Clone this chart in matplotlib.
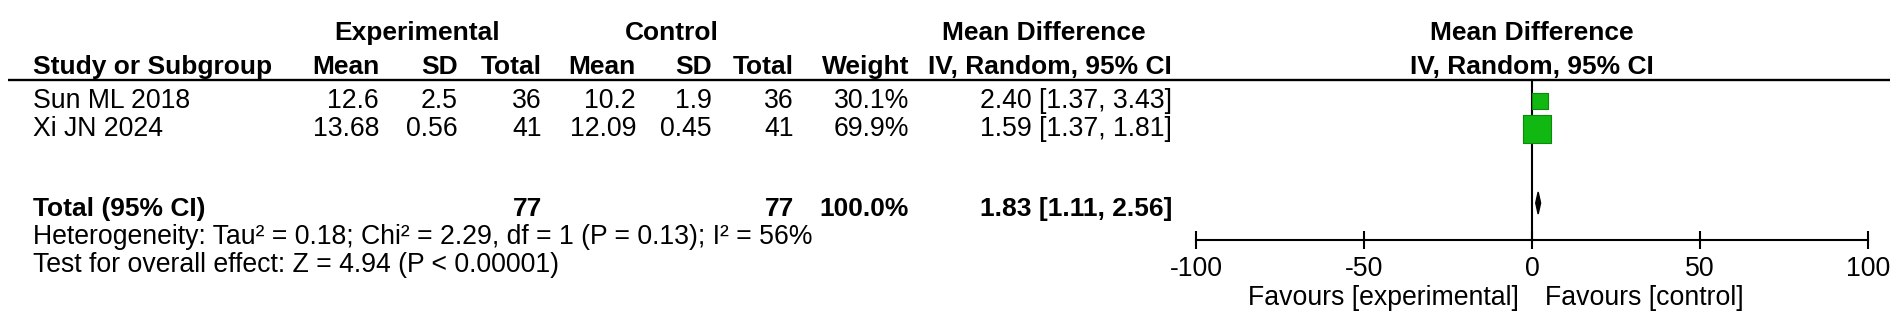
import numpy as np
import matplotlib.pyplot as plt
from matplotlib.patches import Polygon

plt.rcParams['font.family'] = ['Liberation Sans', 'DejaVu Sans']

# data
studies = ["Sun ML 2018", "Xi JN 2024"]
exp_mean = [12.6, 13.68]
exp_sd = [2.5, 0.56]
exp_n = [36, 41]
ctl_mean = [10.2, 12.09]
ctl_sd = [1.9, 0.45]
ctl_n = [36, 41]
weights = [30.1, 69.9]
md = [2.40, 1.59]
ci_lo = [1.37, 1.37]
ci_hi = [3.43, 1.81]
total_md, total_lo, total_hi = 1.83, 1.11, 2.56
heterogeneity = "Heterogeneity: Tau\u00b2 = 0.18; Chi\u00b2 = 2.29, df = 1 (P = 0.13); I\u00b2 = 56%"
overall = "Test for overall effect: Z = 4.94 (P < 0.00001)"
xticks = [-100, -50, 0, 50, 100]

W, H = 1901, 330
FS = 19.2      # regular text
FSB = 19       # bold text

fig = plt.figure(figsize=(W / 100, H / 100), dpi=100)
ax = fig.add_axes([0, 0, 1, 1])
ax.set_xlim(0, W)
ax.set_ylim(H, 0)
ax.axis('off')

# column right edges (pixels) and row centres
cols = [379, 458, 542, 636, 712, 794, 909, 1172]
y_h1, y_h2, y_rule = 33, 67, 80
rows = [101, 129]
y_tot, y_het, y_test = 209, 237, 265

def txt(x, y, s, ha='right', bold=False):
    ax.text(x, y, s, ha=ha, va='center', fontsize=FSB if bold else FS,
            fontweight='bold' if bold else 'normal')

txt(417, y_h1, "Experimental", ha='center', bold=True)
txt(672, y_h1, "Control", ha='center', bold=True)
txt(1044, y_h1, "Mean Difference", ha='center', bold=True)
txt(33, y_h2, "Study or Subgroup", ha='left', bold=True)
for x, s in zip(cols, ["Mean", "SD", "Total", "Mean", "SD", "Total", "Weight",
                       "IV, Random, 95% CI"]):
    txt(x, y_h2, s, bold=True)
ax.plot([8, 1890], [y_rule, y_rule], color='black', lw=1.7, solid_capstyle='butt')

for i, name in enumerate(studies):
    y = rows[i]
    txt(33, y, name, ha='left')
    vals = [f"{exp_mean[i]:g}", f"{exp_sd[i]:g}", f"{exp_n[i]}",
            f"{ctl_mean[i]:g}", f"{ctl_sd[i]:g}", f"{ctl_n[i]}",
            f"{weights[i]:.1f}%",
            f"{md[i]:.2f} [{ci_lo[i]:.2f}, {ci_hi[i]:.2f}]"]
    for x, s in zip(cols, vals):
        txt(x, y, s)

txt(33, y_tot, "Total (95% CI)", ha='left', bold=True)
txt(cols[2], y_tot, f"{sum(exp_n)}", bold=True)
txt(cols[5], y_tot, f"{sum(ctl_n)}", bold=True)
txt(cols[6], y_tot, f"{sum(weights):.1f}%", bold=True)
txt(cols[7], y_tot, f"{total_md:.2f} [{total_lo:.2f}, {total_hi:.2f}]", bold=True)
txt(33, y_het, heterogeneity, ha='left')
txt(33, y_test, overall, ha='left')

# forest panel
fx0, fx1 = 1196, 1868
fa = fig.add_axes([fx0 / W, 0, (fx1 - fx0) / W, 1])
fa.patch.set_visible(False)
fa.set_xlim(-100, 100)
fa.set_ylim(H, 0)
for s in ['left', 'right', 'top']:
    fa.spines[s].set_visible(False)
y_axis = 240
fa.spines['bottom'].set_position(('data', y_axis))
fa.spines['bottom'].set_linewidth(1.5)
fa.set_yticks([])
fa.set_xticks(xticks)
fa.set_xticklabels([str(t) for t in xticks])
fa.tick_params(axis='x', direction='inout', length=13, width=1.5,
               labelsize=FS, pad=5)

fa.text(0, y_h1, "Mean Difference", ha='center', va='center', fontsize=FSB,
        fontweight='bold')
fa.text(0, y_h2, "IV, Random, 95% CI", ha='center', va='center', fontsize=FSB,
        fontweight='bold')
fa.text(-4, 298, "Favours [experimental]", ha='right', va='center', fontsize=FS)
fa.text(4, 298, "Favours [control]", ha='left', va='center', fontsize=FS)

fa.plot([0, 0], [y_rule, y_axis], color='black', lw=1.5)
for i in range(len(studies)):
    fa.plot([ci_lo[i], ci_hi[i]], [rows[i], rows[i]], color='black', lw=1.2)
    side_px = 0.35 * weights[i] + 4.5
    fa.scatter([md[i]], [rows[i]], marker='s', s=(side_px * 0.72) ** 2,
               color='#12b812', edgecolors='#0b8a0b', linewidths=0.8, zorder=3)

dh = 11
fa.add_patch(Polygon([[total_lo, y_tot - 6], [total_md, y_tot - 6 - dh],
                      [total_hi, y_tot - 6], [total_md, y_tot - 6 + dh]],
                     closed=True, color='black', zorder=3))

fig.savefig("out.png", dpi=100)
